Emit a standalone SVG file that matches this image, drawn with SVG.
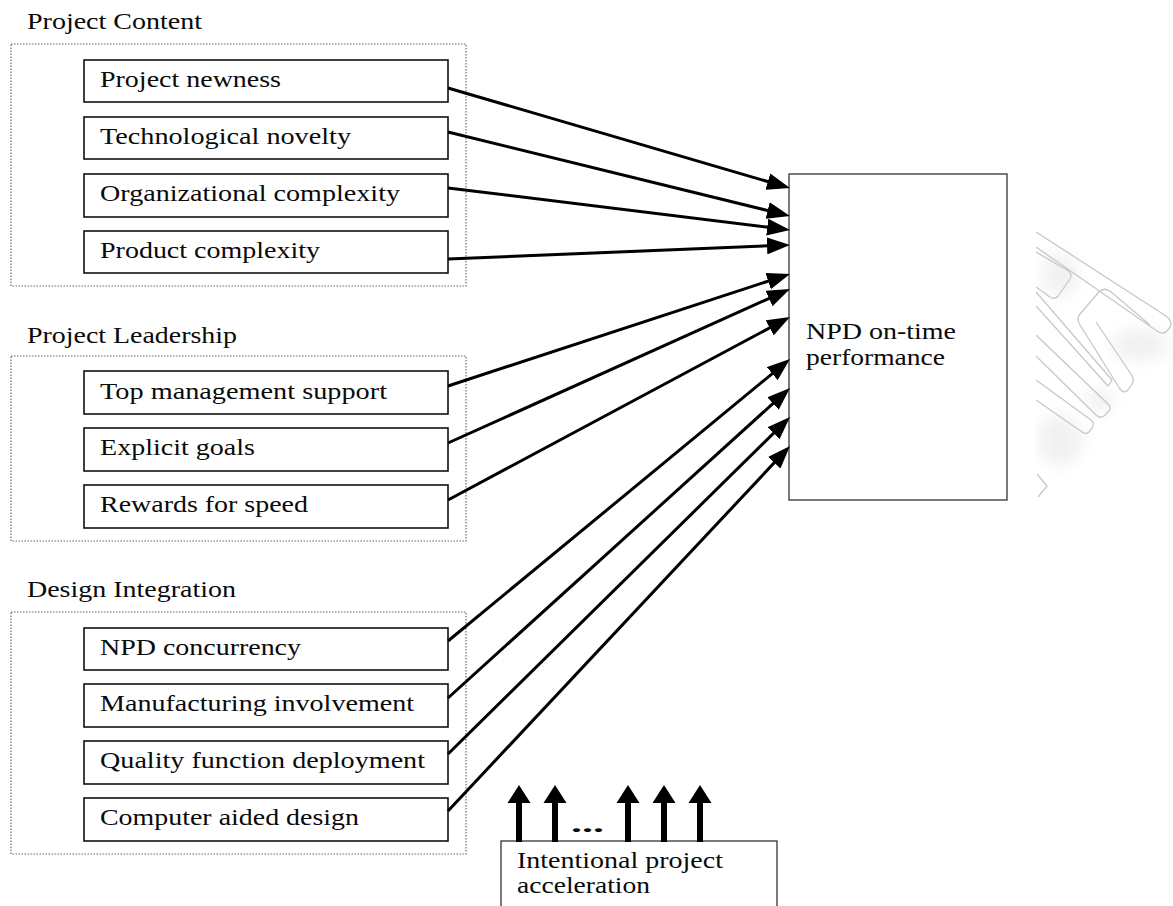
<svg xmlns="http://www.w3.org/2000/svg" width="1173" height="906" viewBox="0 0 1173 906">
  <style>
    .txt { font-family: "Liberation Serif", "Times New Roman", Times, serif; font-size: 24px; fill: #0a0a0a; }
    .group { fill: none; stroke: #6a6a6a; stroke-width: 1.2; stroke-dasharray: 1.5 1.5; }
    .box { fill: #ffffff; stroke: #111111; stroke-width: 1.6; }
    .target { fill: #ffffff; stroke: #333333; stroke-width: 1.3; }
    .link { stroke: #000000; stroke-width: 3; fill: none; }
    .wm { fill: none; stroke: #c8c8c8; stroke-width: 1.3; stroke-linejoin: round; }
  </style>
  <defs>
    <marker id="head" markerUnits="userSpaceOnUse" markerWidth="23" markerHeight="17" refX="15" refY="8.5" orient="auto">
      <path d="M0,0 L23,8.5 L0,17 Z" fill="#000000"/>
    </marker>
    <g id="up">
      <path d="M-11.5,803 L0,785 L11.5,803 Z" fill="#000000"/>
      <line x1="0" y1="801" x2="0" y2="842" stroke="#000000" stroke-width="6"/>
    </g>
    <filter id="soft" x="-50%" y="-50%" width="200%" height="200%">
      <feGaussianBlur stdDeviation="8"/>
    </filter>
    <clipPath id="wmclip">
      <rect x="1036" y="200" width="137" height="320"/>
    </clipPath>
  </defs>

  <rect x="0" y="0" width="1173" height="906" fill="#ffffff"/>

  <!-- faint logo mark on the right margin -->
  <g id="logo-mark" clip-path="url(#wmclip)">
    <g filter="url(#soft)" fill="#f1f1f1">
      <ellipse cx="1060" cy="275" rx="18" ry="22"/>
      <ellipse cx="1140" cy="345" rx="28" ry="16"/>
      <ellipse cx="1060" cy="440" rx="22" ry="26"/>
      <ellipse cx="1100" cy="400" rx="14" ry="12"/>
    </g>
    <path class="wm" d="M1036,232 L1166,316 Q1173,321 1170,327 L1167,331 Q1163,335 1157,331 L1036,247"/>
    <path class="wm" d="M1036,252 L1067,270 Q1073,274 1070,279 L1058,296 Q1055,300 1050,297 L1036,287"/>
    <path class="wm" d="M1150,325 L1110,291 Q1104,287 1099,292 L1080,314 Q1076,319 1080,325 L1120,389 Q1124,394 1128,390 L1132,384 Q1135,379 1131,374 L1096,322"/>
    <path class="wm" d="M1036,292 L1112,380 L1108,386 L1036,306"/>
    <path class="wm" d="M1036,335 L1108,404 Q1112,408 1108,412 L1104,416 Q1100,419 1096,415 L1036,356"/>
    <path class="wm" d="M1036,380 L1091,420 Q1095,423 1092,428 L1089,432 Q1086,435 1082,432 L1036,400"/>
    <path class="wm" d="M1037,474 L1047,486 L1038,497"/>
  </g>

  <!-- group frames and headings -->
  <g id="frame-content">
    <rect class="group" x="11" y="44" width="455" height="242"/>
    <text class="txt" x="27" y="29" textLength="175" lengthAdjust="spacingAndGlyphs">Project Content</text>
  </g>
  <g id="frame-leadership">
    <rect class="group" x="11" y="356" width="455" height="185"/>
    <text class="txt" x="27" y="343" textLength="210" lengthAdjust="spacingAndGlyphs">Project Leadership</text>
  </g>
  <g id="frame-design">
    <rect class="group" x="11" y="612" width="455" height="242"/>
    <text class="txt" x="27" y="597" textLength="209" lengthAdjust="spacingAndGlyphs">Design Integration</text>
  </g>

  <!-- factor boxes -->
  <g id="project-newness">
    <rect class="box" x="84" y="60" width="364" height="42"/>
    <text class="txt" x="100" y="87" textLength="181" lengthAdjust="spacingAndGlyphs">Project newness</text>
  </g>
  <g id="technological-novelty">
    <rect class="box" x="84" y="117" width="364" height="42"/>
    <text class="txt" x="100" y="144" textLength="251" lengthAdjust="spacingAndGlyphs">Technological novelty</text>
  </g>
  <g id="organizational-complexity">
    <rect class="box" x="84" y="174" width="364" height="43"/>
    <text class="txt" x="100" y="201" textLength="300" lengthAdjust="spacingAndGlyphs">Organizational complexity</text>
  </g>
  <g id="product-complexity">
    <rect class="box" x="84" y="231" width="364" height="42"/>
    <text class="txt" x="100" y="258" textLength="220" lengthAdjust="spacingAndGlyphs">Product complexity</text>
  </g>

  <g id="top-management-support">
    <rect class="box" x="84" y="371" width="364" height="43"/>
    <text class="txt" x="100" y="399" textLength="287" lengthAdjust="spacingAndGlyphs">Top management support</text>
  </g>
  <g id="explicit-goals">
    <rect class="box" x="84" y="428" width="364" height="43"/>
    <text class="txt" x="100" y="455" textLength="155" lengthAdjust="spacingAndGlyphs">Explicit goals</text>
  </g>
  <g id="rewards-for-speed">
    <rect class="box" x="84" y="485" width="364" height="43"/>
    <text class="txt" x="100" y="512" textLength="208" lengthAdjust="spacingAndGlyphs">Rewards for speed</text>
  </g>

  <g id="npd-concurrency">
    <rect class="box" x="84" y="628" width="364" height="42"/>
    <text class="txt" x="100" y="655" textLength="201" lengthAdjust="spacingAndGlyphs">NPD concurrency</text>
  </g>
  <g id="manufacturing-involvement">
    <rect class="box" x="84" y="684" width="364" height="43"/>
    <text class="txt" x="100" y="711" textLength="314" lengthAdjust="spacingAndGlyphs">Manufacturing involvement</text>
  </g>
  <g id="quality-function-deployment">
    <rect class="box" x="84" y="741" width="364" height="43"/>
    <text class="txt" x="100" y="768" textLength="325" lengthAdjust="spacingAndGlyphs">Quality function deployment</text>
  </g>
  <g id="computer-aided-design">
    <rect class="box" x="84" y="798" width="364" height="43"/>
    <text class="txt" x="100" y="825" textLength="259" lengthAdjust="spacingAndGlyphs">Computer aided design</text>
  </g>

  <!-- outcome -->
  <g id="npd-on-time-performance">
    <rect class="target" x="789" y="174" width="218" height="326"/>
    <text class="txt" x="806" y="339" textLength="150" lengthAdjust="spacingAndGlyphs">NPD on-time</text>
    <text class="txt" x="806" y="365" textLength="139" lengthAdjust="spacingAndGlyphs">performance</text>
  </g>

  <!-- moderator -->
  <g id="intentional-project-acceleration">
    <rect class="target" x="501" y="841" width="276" height="80"/>
    <text class="txt" x="517" y="868" textLength="206" lengthAdjust="spacingAndGlyphs">Intentional project</text>
    <text class="txt" x="517" y="893" textLength="133" lengthAdjust="spacingAndGlyphs">acceleration</text>
  </g>

  <!-- connectors -->
  <g id="connectors">
    <line class="link" marker-end="url(#head)" x1="448" y1="88" x2="782.3" y2="185.8"/>
    <line class="link" marker-end="url(#head)" x1="448" y1="132" x2="782.2" y2="214.1"/>
    <line class="link" marker-end="url(#head)" x1="448" y1="188" x2="782.1" y2="229.0"/>
    <line class="link" marker-end="url(#head)" x1="448" y1="259" x2="782.0" y2="245.3"/>
    <line class="link" marker-end="url(#head)" x1="448" y1="386" x2="782.4" y2="276.5"/>
    <line class="link" marker-end="url(#head)" x1="448" y1="443" x2="782.7" y2="292.3"/>
    <line class="link" marker-end="url(#head)" x1="448" y1="500" x2="782.9" y2="320.8"/>
    <line class="link" marker-end="url(#head)" x1="448" y1="641" x2="783.8" y2="364.1"/>
    <line class="link" marker-end="url(#head)" x1="448" y1="698" x2="784.1" y2="393.4"/>
    <line class="link" marker-end="url(#head)" x1="448" y1="754" x2="784.3" y2="422.6"/>
    <line class="link" marker-end="url(#head)" x1="448" y1="811" x2="784.5" y2="451.8"/>
    <use href="#up" x="519" y="0"/>
    <use href="#up" x="555" y="0"/>
    <use href="#up" x="628" y="0"/>
    <use href="#up" x="664" y="0"/>
    <use href="#up" x="700" y="0"/>
    <text class="txt" x="571" y="832" font-weight="bold" textLength="33" lengthAdjust="spacingAndGlyphs">...</text>
  </g>
</svg>
